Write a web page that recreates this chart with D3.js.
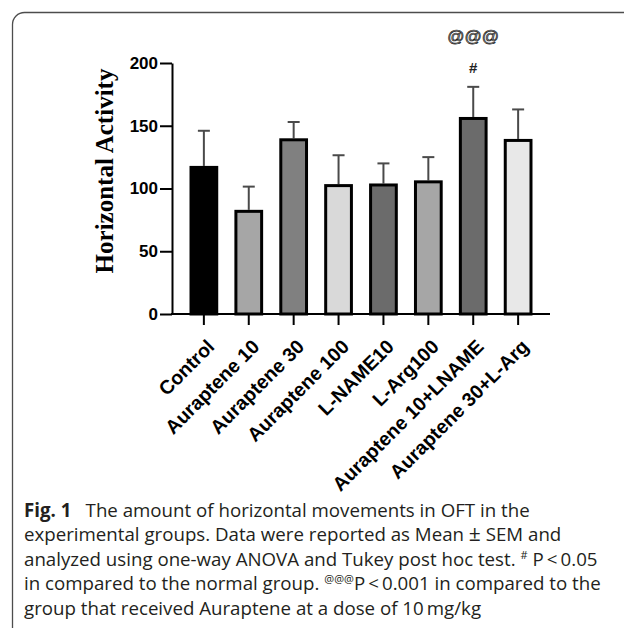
<!DOCTYPE html>
<html lang="en">
<head>
    <meta charset="UTF-8">
    <title>Horizontal Activity</title>
    <script src="https://d3js.org/d3.v7.min.js"></script>
    <style>
        body {
            margin: 0;
            background: #fff;
        }
        svg {
            display: block;
        }
        .axis path, .axis line {
            stroke: #000;
            stroke-width: 2px;
        }
        .axis text {
            font-family: "Liberation Sans", Arial, sans-serif;
            font-weight: bold;
            fill: #000;
        }
        .caption {
            font-family: "Open Sans", "Noto Sans", sans-serif;
            fill: #231f20;
        }
    </style>
</head>
<body>
    <svg id="chart" width="624" height="628"></svg>

    <script>
        // values
        const groups = ["Control", "Auraptene 10", "Auraptene 30", "Auraptene 100",
                        "L-NAME10", "L-Arg100", "Auraptene 10+LNAME", "Auraptene 30+L-Arg"];
        const means = [118, 83, 140, 103.5, 104, 106.5, 157, 139.5];
        const sems = [28, 18.5, 13, 23, 16, 18.5, 24, 23.5];
        const fills = ["#000000", "#a6a6a6", "#808080", "#d9d9d9",
                       "#6b6b6b", "#a6a6a6", "#6b6b6b", "#e8e8e8"];
        const yTicks = [0, 50, 100, 150, 200];
        const marks = [{ group: "Auraptene 10+LNAME", lines: ["@@@", "#"] }];

        const captionLines = [
            [{ t: "Fig. 1", b: true }, { t: "\u2002 The amount of horizontal movements in OFT in the" }],
            [{ t: "experimental groups. Data were reported as Mean " }, { t: "\u00b1", big: true }, { t: " SEM and" }],
            [{ t: "analyzed using one-way ANOVA and Tukey post hoc test. " }, { t: "#", sup: true }, { t: " P\u2009<\u20090.05" }],
            [{ t: "in compared to the normal group. " }, { t: "@@@", sup: true }, { t: "P\u2009<\u20090.001 in compared to the" }],
            [{ t: "group that received Auraptene at a dose of 10\u2009mg/kg" }]
        ];

        const svg = d3.select("#chart");

        // card frame (runs off the right and bottom edges)
        svg.append("rect")
            .attr("x", 12.5).attr("y", 12.5)
            .attr("width", 640).attr("height", 640)
            .attr("rx", 12)
            .attr("fill", "none")
            .attr("stroke", "#4d4d4d")
            .attr("stroke-width", 1.3);

        const plotLeft = 172, plotRight = 550, plotTop = 63, plotBottom = 314;

        const x = d3.scaleBand()
            .domain(groups)
            .range([plotLeft, plotRight])
            .paddingInner(0.36)
            .paddingOuter(0.39);

        const y = d3.scaleLinear()
            .domain([0, 200])
            .range([plotBottom, plotTop]);

        // error bars (upper only)
        const eb = svg.append("g");
        groups.forEach((g, i) => {
            const cx = x(g) + x.bandwidth() / 2;
            eb.append("line")
                .attr("x1", cx).attr("x2", cx)
                .attr("y1", y(means[i])).attr("y2", y(means[i] + sems[i]))
                .attr("stroke", "#4a4a4a").attr("stroke-width", 2);
            eb.append("line")
                .attr("x1", cx - 6).attr("x2", cx + 6)
                .attr("y1", y(means[i] + sems[i])).attr("y2", y(means[i] + sems[i]))
                .attr("stroke", "#4a4a4a").attr("stroke-width", 2);
        });

        // bars
        svg.append("g")
            .selectAll("rect")
            .data(groups)
            .enter().append("rect")
            .attr("x", d => x(d) + 1.5)
            .attr("width", x.bandwidth() - 3)
            .attr("y", (d, i) => y(means[i]) + 1.5)
            .attr("height", (d, i) => plotBottom - y(means[i]) - 1.5)
            .attr("fill", (d, i) => fills[i])
            .attr("stroke", "#000")
            .attr("stroke-width", 3);

        // y axis
        const yAxis = svg.append("g")
            .attr("class", "axis")
            .attr("transform", `translate(${plotLeft},0)`)
            .call(d3.axisLeft(y).tickValues(yTicks).tickSize(12).tickPadding(2).tickSizeOuter(0));
        yAxis.selectAll("text").style("font-size", "17px");

        // x axis
        const xAxis = svg.append("g")
            .attr("class", "axis")
            .attr("transform", `translate(0,${plotBottom})`)
            .call(d3.axisBottom(x).tickSize(11).tickSizeOuter(0));
        xAxis.select(".domain").attr("d", `M${plotLeft - 1},0H${plotRight}`);
        xAxis.selectAll("text")
            .style("font-size", "19.5px")
            .attr("text-anchor", "end")
            .attr("y", 0)
            .attr("dy", "0.35em")
            .attr("transform", "translate(7,29) rotate(-45)");

        // y axis title
        svg.append("text")
            .attr("transform", `translate(113,171) rotate(-90)`)
            .attr("text-anchor", "middle")
            .style("font-family", "'Liberation Serif', 'Times New Roman', serif")
            .style("font-weight", "bold")
            .style("font-size", "25px")
            .text("Horizontal Activity");

        // significance marks
        marks.forEach(m => {
            const cx = x(m.group) + x.bandwidth() / 2;
            svg.append("text")
                .attr("x", cx).attr("y", 42)
                .attr("text-anchor", "middle")
                .style("font-family", "'Liberation Sans', Arial, sans-serif")
                .style("font-size", "17px")
                .attr("fill", "#b0b0b0")
                .attr("stroke", "#222")
                .attr("stroke-width", 0.7)
                .text(m.lines[0]);
            svg.append("text")
                .attr("x", cx).attr("y", 73)
                .attr("text-anchor", "middle")
                .style("font-family", "'Liberation Sans', Arial, sans-serif")
                .style("font-weight", "bold")
                .style("font-size", "15px")
                .attr("fill", "#222")
                .text(m.lines[1]);
        });

        // caption
        const cap = svg.append("g").attr("class", "caption");
        captionLines.forEach((line, i) => {
            const t = cap.append("text")
                .attr("x", 24)
                .attr("y", 517 + i * 24.4)
                .style("font-size", "18.7px");
            let raised = false;
            line.forEach(part => {
                const s = t.append("tspan").text(part.t);
                if (part.b) s.style("font-weight", "bold");
                if (part.big) s.style("font-size", "21px");
                if (part.sup) {
                    s.style("font-size", "11px").attr("dy", -7);
                    raised = true;
                } else if (raised) {
                    s.attr("dy", 7);
                    raised = false;
                }
            });
        });
    </script>
</body>
</html>
